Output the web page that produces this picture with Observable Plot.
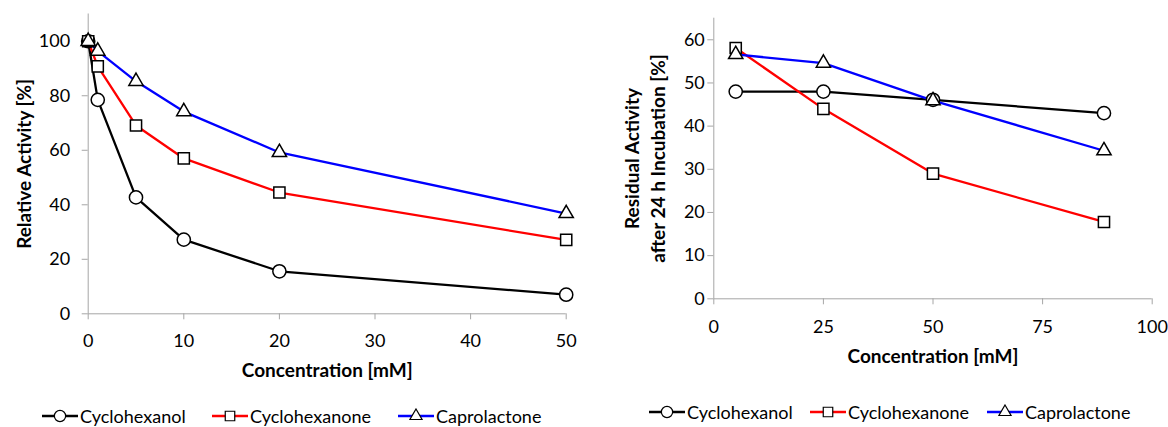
<!DOCTYPE html>
<html><head><meta charset="utf-8">
<script src="https://cdn.jsdelivr.net/npm/d3@7"></script>
<script src="https://cdn.jsdelivr.net/npm/@observablehq/plot@0.6"></script>
<style>
body{margin:0;background:#fff;font-family:Lato,"Open Sans",sans-serif;}
#wrap{position:relative;width:1168px;height:427px;overflow:hidden;background:#fff;}
.panel{position:absolute;top:0;}
.legend{position:absolute;left:0;top:0;width:1168px;height:427px;pointer-events:none;}
.item{position:absolute;display:flex;align-items:center;white-space:nowrap;font-size:18px;line-height:20px;color:#000;transform:translateY(-50%);}
.item svg{display:block;margin-right:2px;}
</style></head>
<body><div id="wrap"><div id="legend" class="legend"></div></div>
<script>
// ---- data ----
const seriesNames = ["Cyclohexanol", "Cyclohexanone", "Caprolactone"];
const seriesColors = ["#000000", "#ff0000", "#0000ff"];
const seriesSymbols = ["circle", "square", "triangle"];

// Left panel: relative activity vs concentration
const concA = [0, 1, 5, 10, 20, 50];
const relCyclohexanol = [100, 78.5, 42.7, 27.2, 15.6, 7.0];
const relCyclohexanone = [100, 90.8, 69.1, 57.0, 44.5, 27.1];
const relCaprolactone = [100, 96.4, 85.3, 74.2, 59.2, 36.8];
const ticksAx = [0, 10, 20, 30, 40, 50];
const ticksAy = [0, 20, 40, 60, 80, 100];
const labelAy = "Relative Activity [%]";

// Right panel: residual activity after 24 h incubation
const concB = [5, 25, 50, 89];
const resCyclohexanol = [48.0, 48.0, 46.1, 43.0];
const resCyclohexanone = [58.1, 44.0, 29.0, 17.8];
const resCaprolactone = [56.6, 54.6, 45.9, 34.3];
const ticksBx = [0, 25, 50, 75, 100];
const ticksBy = [0, 10, 20, 30, 40, 50, 60];
const labelBy = "Residual Activity\nafter 24 h Incubation [%]";

const labelX = "Concentration [mM]";

// ---- build ----
const axisColor = "#a6a6a6";
const symbolR = {circle: 6.6, square: 6.3, triangle: 5.3};

function rows(conc, valueArrays) {
  const out = [];
  valueArrays.forEach((vals, si) => {
    vals.forEach((v, i) => out.push({x: conc[i], y: v, s: seriesNames[si]}));
  });
  return out;
}

function makePanel(o) {
  const data = rows(o.conc, o.values);
  const marks = [
    Plot.ruleY([0], {stroke: axisColor, strokeWidth: 1}),
    Plot.ruleX([0], {stroke: axisColor, strokeWidth: 1}),
    Plot.axisX({ticks: o.xTicks, tickSize: 6, tickPadding: o.xTickPadding, stroke: axisColor, fill: "#000", label: null, tickFormat: d => String(d)}),
    Plot.axisY({ticks: o.yTicks, tickSize: 6, tickPadding: o.yTickPadding, stroke: axisColor, fill: "#000", label: null, tickFormat: d => String(d)}),
  ];
  seriesNames.forEach((name, si) => {
    const d = data.filter(r => r.s === name);
    marks.push(Plot.line(d, {x: "x", y: "y", stroke: seriesColors[si], strokeWidth: 2.3, curve: o.curve}));
  });
  seriesNames.forEach((name, si) => {
    const d = data.filter(r => r.s === name);
    marks.push(Plot.dot(d, {x: "x", y: "y", symbol: () => seriesSymbols[si], r: symbolR[seriesSymbols[si]], fill: "#fff", stroke: "#000", strokeWidth: 1.5}));
  });
  marks.push(Plot.text([o.yLabel], {text: d => d, frameAnchor: "left", rotate: -90, dx: o.yLabelDx, textAnchor: "middle", fontWeight: "bold", fontSize: 19, lineAnchor: "middle", lineHeight: 1.38, fill: "#000"}));
  marks.push(Plot.text([labelX], {text: d => d, frameAnchor: "bottom", dy: o.xTitleDy, textAnchor: "middle", fontWeight: "bold", fontSize: 19, lineAnchor: "middle", fill: "#000"}));
  const svg = Plot.plot({
    width: o.width, height: o.height,
    marginLeft: o.ml, marginRight: o.mr, marginTop: o.mt, marginBottom: o.mb,
    x: {domain: o.xDomain},
    y: {domain: o.yDomain},
    symbol: {type: "identity"},
    style: {fontFamily: "Lato, 'Open Sans', sans-serif", fontSize: "18px", background: "transparent", overflow: "visible"},
    marks
  });
  svg.classList.add("panel");
  svg.style.left = o.left + "px";
  return svg;
}

const wrap = document.getElementById("wrap");
wrap.insertBefore(makePanel({
  conc: concA, values: [relCyclohexanol, relCyclohexanone, relCaprolactone],
  xDomain: [0, 50], yDomain: [0, 110], xTicks: ticksAx, yTicks: ticksAy,
  width: 600, height: 380, ml: 87.7, mr: 34.3, mt: 13.5, mb: 66.7, left: 0,
  yLabel: labelAy, yLabelDx: -66, xTitleDy: 56.7, curve: "linear",
  xTickPadding: 14, yTickPadding: 12
}), wrap.firstChild);
wrap.insertBefore(makePanel({
  conc: concB, values: [resCyclohexanol, resCyclohexanone, resCaprolactone],
  xDomain: [0, 100], yDomain: [0, 65], xTicks: ticksBx, yTicks: ticksBy,
  width: 568, height: 380, ml: 113.3, mr: 16.3, mt: 17.7, mb: 81.7, left: 600,
  yLabel: labelBy, yLabelDx: -70, xTitleDy: 58.4, curve: "linear",
  xTickPadding: 15, yTickPadding: 3
}), wrap.firstChild);

// ---- legends ----
const legend = document.getElementById("legend");
function addLegend(lefts, top) {
  seriesNames.forEach((name, si) => {
    const item = document.createElement("div");
    item.className = "item";
    item.style.left = lefts[si] + "px";
    item.style.top = top + "px";
    const s = d3.create("svg").attr("width", 36).attr("height", 16);
    s.append("line").attr("x1", 0).attr("x2", 36).attr("y1", 8).attr("y2", 8)
      .attr("stroke", seriesColors[si]).attr("stroke-width", 2.3);
    const r = symbolR[seriesSymbols[si]] * 0.85;
    const sym = {circle: d3.symbolCircle, square: d3.symbolSquare, triangle: d3.symbolTriangle}[seriesSymbols[si]];
    s.append("path").attr("transform", "translate(18,8)")
      .attr("d", d3.symbol(sym, Math.PI * r * r)())
      .attr("fill", "#fff").attr("stroke", "#000").attr("stroke-width", 1.2);
    item.appendChild(s.node());
    const t = document.createElement("span");
    t.textContent = name;
    item.appendChild(t);
    legend.appendChild(item);
  });
}
addLegend([42, 212, 398], 416);
addLegend([649, 810, 987], 412);
</script></body></html>
